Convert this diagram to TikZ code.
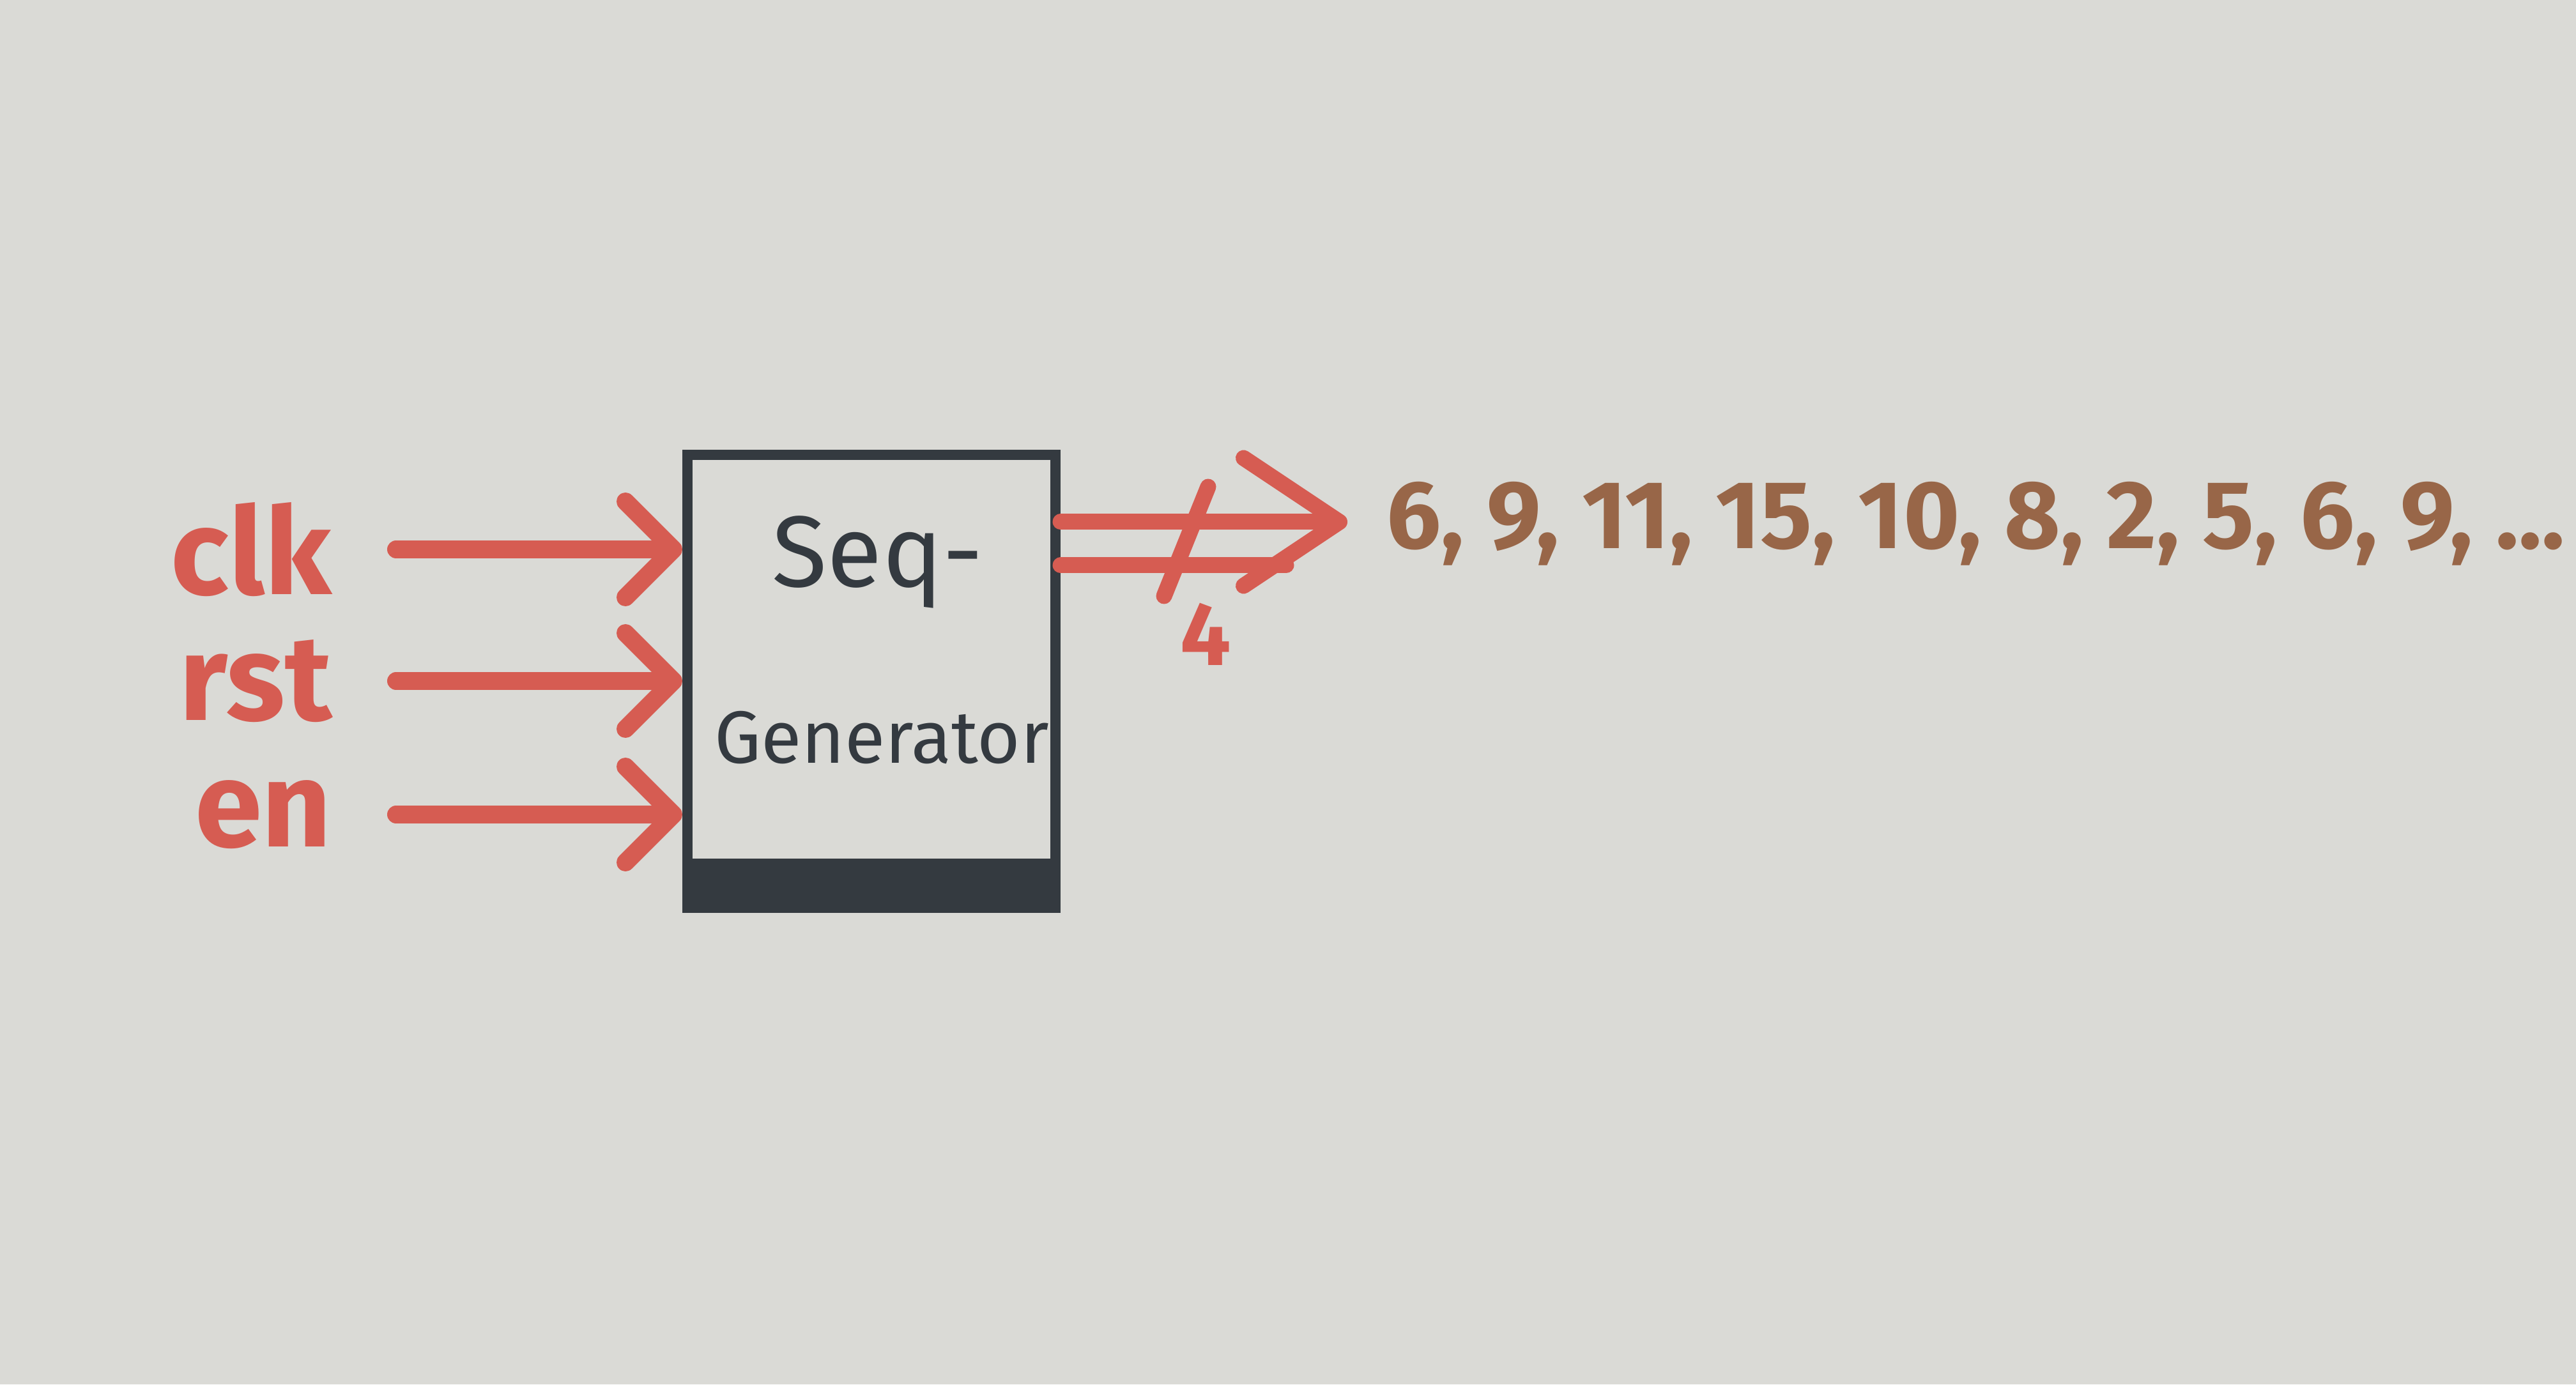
\documentclass[tikz,border=0pt]{standalone}
\usepackage{fontspec}
\setmainfont{Fira Sans}
\usetikzlibrary{arrows.meta}
\definecolor{paper}{RGB}{218,218,214}
\definecolor{penred}{RGB}{214,92,82}
\definecolor{penbrown}{RGB}{152,102,72}
\definecolor{ink}{RGB}{52,58,64}

\begin{document}
\begin{tikzpicture}[cap=round]
% Styles
\tikzstyle{sig}=[penred, line width=0.28cm, -{Straight Barb[length=0.75cm,width=1.5cm,round]}]
\tikzstyle{wire}=[penred, line width=0.25cm]
\tikzstyle{insig}=[penred, inner sep=0pt, font=\fontsize{54}{54}\selectfont\bfseries]
\tikzstyle{inktext}=[ink, inner sep=0pt]

% paper
\fill[paper] (0,0) rectangle (40.32,21.67);
\useasboundingbox (0,0) rectangle (40.32,21.67);

% the block
\node[draw=ink, line width=0.16cm, minimum width=5.76cm, minimum height=7.09cm] (gen) at (13.64,11.0) {};
\fill[ink] (gen.south west) rectangle ([yshift=0.85cm]gen.south east);
\node[inktext, font=\fontsize{45}{45}\selectfont] (seq) at (13.74,12.87) {Seq-};
\node[inktext, font=\fontsize{33}{33}\selectfont] (gname) at (13.8,10.12) {Generator};

% inputs
\foreach \n/\y in {clk/13.07,rst/11.01,en/8.92} {
\node[insig, anchor=east] (\n) at (5.2,\y) {\n};
\draw[sig] ([xshift=1cm]\n.east) -- (\n -| gen.west);
}

% output bus, 4 bits wide
\coordinate (busA) at (21.09,13.5);
\coordinate (busB) at (20.13,12.82);
\draw[wire, -{Straight Barb[length=1.5cm,width=2cm,round]}] (gen.east |- busA) -- (busA);
\draw[wire] (gen.east |- busB) -- (busB);
\coordinate (sl1) at (18.91,14.05);
\coordinate (sl2) at (18.22,12.34);
\draw[wire] (sl1) -- (sl2);
\node[penred, inner sep=0pt, font=\fontsize{40}{40}\selectfont\bfseries] (bits) at (18.87,11.74) {4};

\node[penbrown, anchor=west, inner sep=0pt, font=\fontsize{43}{43}\selectfont\bfseries] (out) at (21.7,13.47) {6, 9, 11, 15, 10, 8, 2, 5, 6, 9, ...};

\end{tikzpicture}
\end{document}
